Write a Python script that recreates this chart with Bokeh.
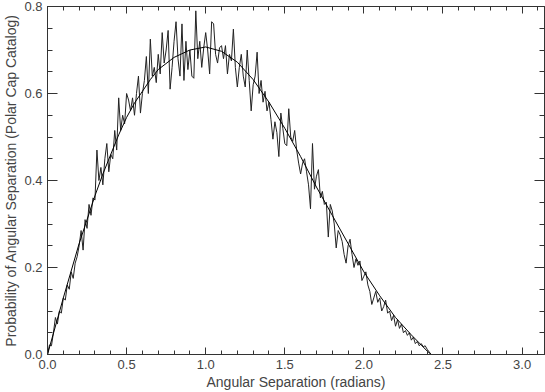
import numpy as np
from bokeh.plotting import figure
from bokeh.models import (Range1d, LinearAxis, SingleIntervalTicker, PrintfTickFormatter,
                          CustomJSTickFormatter)
from bokeh.embed import file_html
from bokeh.resources import INLINE

# ---------------- data ----------------
X_MAX = 3.1416
Y_MAX = 0.8

# smooth model curve
SMOOTH_X = [0.0, 0.1, 0.2, 0.3, 0.35, 0.4, 0.45, 0.5, 0.55, 0.6, 0.65, 0.7, 0.8, 0.9,
            1.0, 1.1, 1.2, 1.3, 1.4, 1.5, 1.6, 1.7, 1.8, 1.9, 2.0, 2.1, 2.2, 2.3,
            2.4, 2.425, 3.1416]
SMOOTH_Y = [0.0, 0.13, 0.255, 0.365, 0.415, 0.46, 0.505, 0.545, 0.578, 0.605, 0.632, 0.655,
            0.683, 0.70, 0.707, 0.697, 0.672, 0.632, 0.58, 0.52, 0.455, 0.385, 0.32,
            0.255, 0.19, 0.135, 0.085, 0.045, 0.008, 0.0, 0.0]

# measured histogram (bin width 0.0125 rad, starting at 0)
BIN_WIDTH = 0.0125
MEASURED = [
    0.0, 0.022, 0.02, 0.05, 0.085, 0.07, 0.1, 0.095,
    0.13, 0.125, 0.16, 0.15, 0.19, 0.175, 0.21, 0.225,
    0.25, 0.285, 0.24, 0.31, 0.29, 0.345, 0.32, 0.36,
    0.355, 0.47, 0.40, 0.43, 0.39, 0.45, 0.485, 0.42,
    0.46, 0.45, 0.515, 0.47, 0.59, 0.515, 0.55, 0.53,
    0.60, 0.585, 0.56, 0.59, 0.55, 0.60, 0.64, 0.555,
    0.60, 0.63, 0.685, 0.60, 0.725, 0.64, 0.66, 0.625,
    0.69, 0.645, 0.74, 0.67, 0.70, 0.745, 0.61, 0.66,
    0.72, 0.765, 0.68, 0.64, 0.76, 0.63, 0.72, 0.655,
    0.70, 0.64, 0.635, 0.79, 0.68, 0.72, 0.66, 0.705,
    0.74, 0.70, 0.645, 0.765, 0.76, 0.69, 0.67, 0.705,
    0.71, 0.68, 0.71, 0.645, 0.69, 0.675, 0.748, 0.66,
    0.615, 0.66, 0.69, 0.64, 0.615, 0.70, 0.63, 0.56,
    0.62, 0.64, 0.695, 0.60, 0.63, 0.58, 0.605, 0.56,
    0.58, 0.54, 0.495, 0.535, 0.51, 0.455, 0.555, 0.52,
    0.485, 0.48, 0.565, 0.50, 0.49, 0.515, 0.47, 0.44,
    0.415, 0.44, 0.45, 0.42, 0.39, 0.335, 0.485, 0.38,
    0.41, 0.425, 0.36, 0.375, 0.345, 0.35, 0.27, 0.345,
    0.33, 0.30, 0.245, 0.285, 0.275, 0.26, 0.23, 0.21,
    0.25, 0.265, 0.23, 0.20, 0.22, 0.205, 0.215, 0.17,
    0.18, 0.19, 0.16, 0.145, 0.115, 0.13, 0.145, 0.12,
    0.13, 0.10, 0.11, 0.125, 0.095, 0.10, 0.078, 0.09,
    0.065, 0.08, 0.06, 0.07, 0.05, 0.055, 0.044, 0.05,
    0.033, 0.04, 0.025, 0.03, 0.02, 0.025, 0.018, 0.02,
    0.012, 0.006, 0.0,
]
TAIL_X = [3.1416]
TAIL_Y = [0.0]

X_TICK_STEP = 0.5
Y_TICK_STEP = 0.2
X_LABEL = "Angular Separation (radians)"
Y_LABEL = "Probability of Angular Separation (Polar Cap Catalog)"

# ---------------- styling ----------------
FONT = "Liberation Sans"
TEXT_COLOR = "#444444"
AXIS_COLOR = "#333333"

meas_x = list(np.arange(len(MEASURED)) * BIN_WIDTH) + TAIL_X
meas_y = MEASURED + TAIL_Y

p = figure(width=545, height=392,
           x_range=Range1d(0, X_MAX), y_range=Range1d(0, Y_MAX),
           output_backend="svg", toolbar_location=None,
           x_axis_type=None, y_axis_type=None,
           min_border_left=44, min_border_right=1,
           min_border_top=6, min_border_bottom=1)
p.grid.visible = False
p.outline_line_color = AXIS_COLOR
p.background_fill_color = "white"
p.border_fill_color = "white"


def make_axis(step, nminor, tick_in, minor_in, show_labels, label=None, standoff=6):
    ax = LinearAxis(ticker=SingleIntervalTicker(interval=step, num_minor_ticks=nminor))
    ax.major_tick_in = tick_in
    ax.major_tick_out = 0
    ax.minor_tick_in = minor_in
    ax.minor_tick_out = 0
    ax.axis_line_color = AXIS_COLOR
    ax.major_tick_line_color = AXIS_COLOR
    ax.minor_tick_line_color = AXIS_COLOR
    if show_labels:
        ax.formatter = PrintfTickFormatter(format="%.1f")
        ax.major_label_text_font = FONT
        ax.major_label_text_font_size = "13px"
        ax.major_label_text_color = TEXT_COLOR
        ax.major_label_standoff = standoff
    else:
        ax.formatter = CustomJSTickFormatter(code="return '';")
        ax.major_label_text_font_size = "1px"
        ax.major_label_standoff = 0
    if label:
        ax.axis_label = label
        ax.axis_label_text_font = FONT
        ax.axis_label_text_font_size = "14px"
        ax.axis_label_text_font_style = "normal"
        ax.axis_label_text_color = TEXT_COLOR
        ax.axis_label_standoff = 2
    return ax


p.add_layout(make_axis(X_TICK_STEP, 5, 7, 4, True, X_LABEL, standoff=5), "below")
p.add_layout(make_axis(X_TICK_STEP, 5, 7, 4, False), "above")
p.add_layout(make_axis(Y_TICK_STEP, 4, 10, 5, True, Y_LABEL, standoff=5), "left")
p.add_layout(make_axis(Y_TICK_STEP, 4, 10, 5, False), "right")

p.line(meas_x, meas_y, line_color="#222222", line_width=1)
p.line(SMOOTH_X, SMOOTH_Y, line_color="#000000", line_width=1)

open("out.html", "w").write(file_html(p, INLINE))
